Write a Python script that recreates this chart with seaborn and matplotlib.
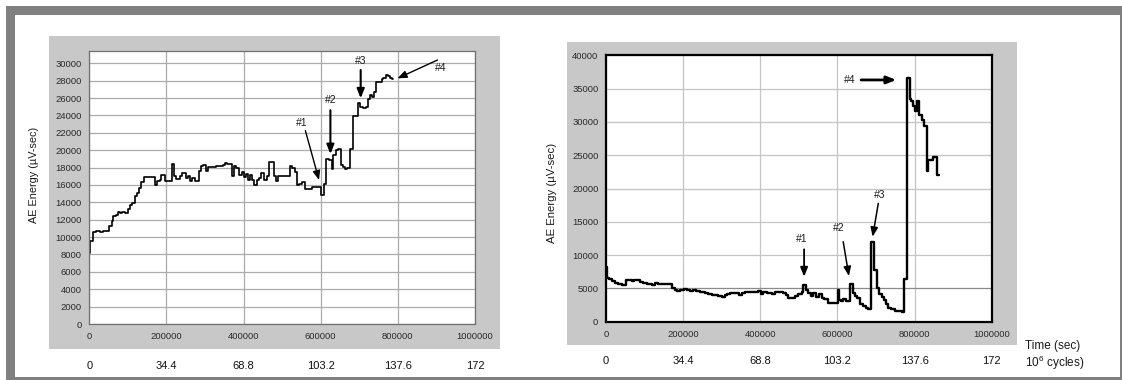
import matplotlib
matplotlib.use("Agg")
import matplotlib.pyplot as plt
from matplotlib.patches import Rectangle
import pandas as pd
import seaborn as sns

# ---------------------------------------------------------------------------
# Data: AE energy recorded as a step series (value holds until next time stamp)
# ---------------------------------------------------------------------------
left_time = [0, 2600, 10300, 17200, 27500, 36100, 51600, 57600, 61900, 68800,
             74800, 79100, 86000, 92000, 100600, 106700, 111800, 117800, 123900,
             129000, 135100, 141900, 169500, 175500, 182400, 186700, 195300,
             215100, 220200, 225400, 234000, 240900, 249500, 255500, 259800,
             266700, 275300, 285600, 290700, 295900, 302800, 307100, 313100,
             328600, 345800, 351800, 357000, 369900, 375900, 380200, 388800,
             394800, 401700, 406000, 410300, 416300, 421500, 427500, 434400,
             440400, 446400, 453300, 461900, 466200, 479100, 485100, 489500,
             519600, 526400, 533300, 539400, 543700, 550500, 558300, 578100,
             601300, 608200, 614200, 622300, 628400, 632700, 638700, 645600,
             651700, 656900, 662900, 667300, 675900, 684600, 697600, 701900,
             708700, 717400, 723400, 727800, 733800, 739000, 743300, 758000,
             762400, 769300, 775300, 779600, 783900, 786500]
left_energy = [8200, 9500, 10550, 10650, 10550, 10650, 11250, 11800, 12400, 12600,
               12850, 12800, 12850, 12800, 13250, 13750, 13950, 14700, 15100,
               15650, 16300, 16900, 15950, 16400, 16600, 17200, 16400,
               18400, 17000, 16700, 17000, 17400, 16800, 17000, 16500,
               16800, 16500, 17550, 18150, 18350, 17550, 18050, 18100,
               18150, 18250, 18550, 18450, 17000, 18150, 17950, 17200,
               17450, 16900, 17250, 16600, 17100, 16600, 16050, 16600,
               16800, 17400, 16600, 17050, 18600, 17050, 16400, 17000,
               18150, 17950, 17500, 15950, 16150, 16300, 15550, 15750,
               14850, 16150, 18950, 18850, 17800, 19450, 20000, 20100,
               18300, 18100, 17800, 17900, 20100, 23950, 25400, 25000,
               24800, 25000, 25850, 26350, 26150, 26750, 27900, 28150,
               28350, 28600, 28550, 28350, 28200, 28200]

right_time = [0, 3500, 7800, 14700, 23300, 32000, 40600, 51000, 66500, 73500,
              88100, 96800, 105400, 118400, 127000, 134000, 144300, 155600,
              170200, 178900, 184900, 191900, 202200, 209100, 217800, 226400,
              233300, 243700, 256700, 265300, 274000, 282600, 291200, 299900,
              308500, 314600, 321500, 334500, 344800, 351700, 360400, 394900,
              401000, 406200, 416600, 429500, 438200, 451100, 459800, 466700,
              472700, 481400, 490000, 498700, 507300, 511600, 517700, 524600,
              530600, 537500, 543600, 552200, 559100, 566000, 576400, 602300,
              605000, 608500, 615400, 622300, 632700, 639600, 645600, 651700,
              658600, 665500, 673300, 680200, 686200, 695700, 701700, 707800,
              714700, 720700, 725900, 732000, 738000, 749300, 757900, 766600,
              772600, 779500, 788100, 790700, 796800, 801100, 805400, 812300,
              818400, 824400, 831400, 835700, 846900, 859000, 864200]
right_energy = [8250, 6600, 6350, 6100, 5850, 5600, 5500, 6250, 6100, 6250,
                6000, 5850, 5600, 5500, 5750, 5600, 5700, 5600,
                5100, 4700, 4600, 4700, 4850, 4700, 4600, 4750,
                4600, 4500, 4350, 4100, 4000, 3950, 3850, 3700,
                4000, 4100, 4350, 4250, 4000, 4250, 4500, 4600,
                4100, 4500, 4250, 4200, 4500, 4500, 4250, 4000,
                3600, 3500, 3850, 4200, 4500, 5500, 4700, 4350,
                3850, 4250, 3700, 4200, 3600, 3350, 2750, 4700,
                3200, 3100, 3350, 3100, 5600, 4350, 3850, 3600,
                2600, 2350, 2100, 1850, 11900, 7700, 5100, 4200,
                3700, 3200, 2700, 2100, 1850, 1650, 1550, 1450,
                6350, 36600, 33450, 33100, 32350, 31600, 33100, 31100,
                30300, 29400, 22600, 24300, 24700, 22000, 22000]

time_ticks = [0, 200000, 400000, 600000, 800000, 1000000]
cycle_values = [0, 34.4, 68.8, 103.2, 137.6, 172]      # 10^6 cycles
cycle_labels = ["0", "34.4", "68.8", "103.2", "137.6", "172"]
left_yticks = list(range(0, 30001, 2000))
right_yticks = list(range(0, 40001, 5000))

# Event markers: label, text position, arrow tail, arrow tip, arrow width
left_events = [
    ("#1", (551000, 23100), (560300, 22240), (595600, 16570), 1.0),
    ("#2", (625100, 25800), (625100, 24600), (625100, 19560), 1.5),
    ("#3", (703600, 30300), (703600, 29230), (703600, 25970), 1.5),
    ("#4", (911800, 29490), (902800, 30380), (799100, 28270), 1.0),
]
right_events = [
    ("#1", (507900, 12370), (513600, 10870), (513600, 6750), 1.3),
    ("#2", (603900, 14020), (615000, 12010), (629800, 6860), 1.1),
    ("#3", (710700, 19020), (706000, 17770), (691300, 12760), 1.1),
    ("#4", (631600, 36300), (661400, 36300), (752400, 36300), 2.0),
]

# ---------------------------------------------------------------------------
sns.set_style("white")
plt.rcParams["font.family"] = ["Liberation Sans", "DejaVu Sans"]
plt.rcParams["mathtext.fontset"] = "custom"
plt.rcParams["mathtext.rm"] = "Liberation Sans"
plt.rcParams["mathtext.it"] = "Liberation Sans:italic"

W, H = 1122, 380
fig = plt.figure(figsize=(W / 100, H / 100), dpi=100)
fig.patch.set_facecolor("white")


def px_rect(x0, y0, x1, y1, color):
    """Rectangle given in pixel coordinates measured from the top-left corner."""
    fig.add_artist(Rectangle((x0 / W, 1 - y1 / H), (x1 - x0) / W, (y1 - y0) / H,
                             transform=fig.transFigure, facecolor=color,
                             edgecolor="none", zorder=-5))


def px_axes(x0, y0, x1, y1):
    return fig.add_axes([x0 / W, 1 - y1 / H, (x1 - x0) / W, (y1 - y0) / H])


# page frame
frame = "#808080"
px_rect(6, 6, W, 15, frame)
px_rect(6, 6, 15, H, frame)
px_rect(6, 377, W, H, frame)
px_rect(1120, 6, W, 378, frame)

# chart panels
panel = "#c8c8c8"
px_rect(49, 36, 500, 349.3, panel)
px_rect(567, 41.7, 1016.5, 345, panel)

axL = px_axes(89.3, 50.7, 475, 324)
axR = px_axes(606, 55.3, 991.7, 321.7)


def step_frame(t, e):
    return pd.DataFrame({"time": t, "energy": e})


sns.lineplot(data=step_frame(left_time, left_energy), x="time", y="energy",
             ax=axL, drawstyle="steps-post", color="black", lw=1.2,
             estimator=None)
sns.lineplot(data=step_frame(right_time, right_energy), x="time", y="energy",
             ax=axR, drawstyle="steps-post", color="black", lw=1.7,
             estimator=None)

axL.set_xlim(0, 1000000)
axL.set_ylim(0, 31450)
axR.set_xlim(0, 1000000)
axR.set_ylim(0, 40000)

for ax, yt, spine_c, spine_w, grid_c, tick_c in (
        (axL, left_yticks, "#707070", 0.9, "#ababab", "#555555"),
        (axR, right_yticks, "black", 1.6, "#c4c4c4", "black")):
    ax.set_facecolor("white")
    ax.set_xticks(time_ticks)
    ax.set_xticklabels([str(t) for t in time_ticks])
    ax.set_yticks(yt)
    ax.set_yticklabels([str(v) for v in yt])
    ax.set_xlabel("")
    ax.set_ylabel("")
    ax.grid(True, color=grid_c, lw=0.9)
    ax.set_axisbelow(True)
    for s in ax.spines.values():
        s.set_visible(True)
        s.set_color(spine_c)
        s.set_linewidth(spine_w)
    ax.tick_params(axis="both", direction="out", length=4, width=0.8,
                   color=tick_c, labelsize=6.8, labelcolor="#2a2a2a", pad=2)
    ax.tick_params(axis="y", pad=1.5)

# darker reference gridline at 5000 on the right chart
for gl, v in zip(axR.get_ygridlines(), right_yticks):
    if v == 5000:
        gl.set_color("#8a8a8a")

# secondary scale in 10^6 cycles beneath each time axis
to_cyc = (lambda t: t * 172 / 1e6, lambda c: c * 1e6 / 172)
for ax, loc in ((axL, -0.134), (axR, -0.13)):
    sec = ax.secondary_xaxis(loc, functions=to_cyc)
    sec.set_xticks(cycle_values)
    sec.set_xticklabels(cycle_labels)
    sec.tick_params(length=0, pad=0, labelsize=8, labelcolor="#111111")
    for s in sec.spines.values():
        s.set_visible(False)

# event arrows
for ax, events in ((axL, left_events), (axR, right_events)):
    for lab, txt, tail, tip, lw in events:
        ax.text(*txt, lab, ha="center", va="center", fontsize=7.5,
                color="#1a1a1a")
        ax.annotate("", xy=tip, xytext=tail,
                    arrowprops=dict(arrowstyle="-|>,head_length=0.55,head_width=0.22",
                                    color="black", lw=lw, mutation_scale=10,
                                    shrinkA=0, shrinkB=0))

# axis titles
fig.text(34 / W, 1 - 175 / H, "AE Energy (\u00b5V-sec)", rotation=90,
         ha="center", va="center", fontsize=7.8, color="#1a1a1a")
fig.text(552 / W, 1 - 193 / H, "AE Energy (\u00b5V-sec)", rotation=90,
         ha="center", va="center", fontsize=8.2, color="#1a1a1a")
fig.text(1025 / W, 1 - 346 / H, "Time (sec)", ha="left", va="center",
         fontsize=8.5, color="#1a1a1a")
fig.text(1025 / W, 1 - 363 / H, r"10$^{6}$ cycles)", ha="left", va="center",
         fontsize=8.5, color="#1a1a1a")

fig.savefig("out.png", dpi=100, facecolor="white")
